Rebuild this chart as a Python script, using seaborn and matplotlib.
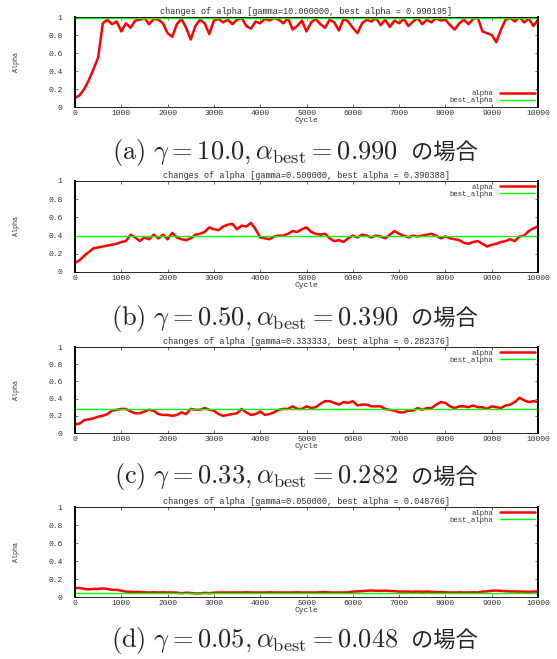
import matplotlib
matplotlib.use("Agg")
import matplotlib.pyplot as plt
import numpy as np
import pandas as pd
import seaborn as sns

cycles = np.arange(0, 10001, 100)

alpha_a = [
    0.10, 0.13, 0.20, 0.30, 0.42, 0.55, 0.93, 0.97, 0.92, 0.95,
    0.84, 0.93, 0.88, 0.96, 0.97, 0.99, 0.92, 0.98, 0.97, 0.93,
    0.82, 0.78, 0.92, 0.98, 0.88, 0.75, 0.90, 0.97, 0.93, 0.81,
    0.96, 0.98, 0.94, 0.97, 0.92, 0.97, 0.99, 0.90, 0.87, 0.95,
    0.93, 0.98, 0.96, 0.99, 0.97, 0.93, 0.99, 0.86, 0.90, 0.96,
    0.84, 0.94, 0.98, 0.92, 0.88, 0.97, 0.94, 0.85, 0.98, 0.95,
    0.88, 0.82, 0.93, 0.97, 0.95, 0.99, 0.91, 0.97, 0.89, 0.96,
    0.93, 0.98, 0.90, 0.95, 0.99, 0.92, 0.97, 0.94, 0.99, 0.96,
    0.97, 0.91, 0.86, 0.93, 0.97, 0.92, 0.98, 0.99, 0.84, 0.82,
    0.80, 0.72, 0.86, 0.97, 0.99, 0.95, 1.00, 0.94, 0.98, 0.90,
    0.97,
]
alpha_b = [
    0.10, 0.13, 0.18, 0.22, 0.26, 0.27, 0.28, 0.29, 0.30, 0.31,
    0.33, 0.34, 0.41, 0.38, 0.34, 0.38, 0.36, 0.41, 0.37, 0.41,
    0.36, 0.43, 0.38, 0.36, 0.35, 0.37, 0.41, 0.42, 0.44, 0.49,
    0.47, 0.46, 0.50, 0.52, 0.53, 0.47, 0.51, 0.50, 0.54, 0.47,
    0.38, 0.37, 0.36, 0.39, 0.40, 0.40, 0.42, 0.45, 0.44, 0.47,
    0.49, 0.44, 0.42, 0.41, 0.42, 0.37, 0.34, 0.35, 0.33, 0.37,
    0.40, 0.38, 0.41, 0.40, 0.38, 0.40, 0.39, 0.37, 0.41, 0.45,
    0.42, 0.40, 0.38, 0.40, 0.39, 0.40, 0.41, 0.42, 0.40, 0.37,
    0.39, 0.37, 0.36, 0.35, 0.32, 0.31, 0.33, 0.34, 0.31, 0.28,
    0.30, 0.31, 0.33, 0.34, 0.36, 0.34, 0.39, 0.40, 0.45, 0.48,
    0.50,
]
alpha_c = [
    0.10, 0.11, 0.15, 0.16, 0.17, 0.19, 0.20, 0.22, 0.26, 0.27,
    0.28, 0.28, 0.25, 0.23, 0.23, 0.25, 0.27, 0.26, 0.22, 0.21,
    0.21, 0.20, 0.21, 0.24, 0.22, 0.28, 0.27, 0.27, 0.29, 0.27,
    0.26, 0.22, 0.20, 0.21, 0.22, 0.23, 0.28, 0.24, 0.21, 0.22,
    0.25, 0.21, 0.22, 0.24, 0.27, 0.28, 0.28, 0.31, 0.28, 0.28,
    0.31, 0.29, 0.30, 0.34, 0.37, 0.37, 0.35, 0.33, 0.36, 0.35,
    0.37, 0.32, 0.33, 0.33, 0.31, 0.31, 0.31, 0.28, 0.27, 0.26,
    0.24, 0.24, 0.26, 0.26, 0.29, 0.27, 0.29, 0.29, 0.33, 0.36,
    0.35, 0.31, 0.29, 0.31, 0.31, 0.30, 0.32, 0.30, 0.30, 0.28,
    0.31, 0.30, 0.29, 0.32, 0.33, 0.36, 0.41, 0.38, 0.36, 0.37,
    0.36,
]
alpha_d = [
    0.100, 0.100, 0.090, 0.085, 0.090, 0.090, 0.095, 0.090, 0.080, 0.080,
    0.070, 0.060, 0.058, 0.055, 0.055, 0.052, 0.050, 0.052, 0.050, 0.052,
    0.050, 0.050, 0.048, 0.042, 0.048, 0.045, 0.040, 0.040, 0.046, 0.042,
    0.048, 0.050, 0.050, 0.050, 0.050, 0.050, 0.050, 0.052, 0.050, 0.050,
    0.050, 0.050, 0.052, 0.050, 0.050, 0.050, 0.050, 0.050, 0.052, 0.050,
    0.050, 0.050, 0.050, 0.052, 0.055, 0.050, 0.050, 0.050, 0.050, 0.052,
    0.060, 0.062, 0.065, 0.070, 0.072, 0.070, 0.068, 0.070, 0.068, 0.065,
    0.060, 0.060, 0.060, 0.058, 0.060, 0.058, 0.060, 0.058, 0.055, 0.055,
    0.052, 0.050, 0.050, 0.052, 0.050, 0.050, 0.052, 0.050, 0.060, 0.062,
    0.070, 0.072, 0.068, 0.065, 0.062, 0.062, 0.060, 0.060, 0.058, 0.060,
    0.060,
]

gammas = [10.0, 0.5, 0.333333, 0.05]
best_alphas = [0.990195, 0.390388, 0.282376, 0.048766]
panel_letters = ["a", "b", "c", "d"]
caption_gammas = ["10.0", "0.50", "0.33", "0.05"]
caption_bests = ["0.990", "0.390", "0.282", "0.048"]
legend_locs = ["lower right", "upper right", "upper right", "upper right"]
series = [alpha_a, alpha_b, alpha_c, alpha_d]

sns.set_style("ticks")
plt.rcParams["mathtext.fontset"] = "cm"
plt.rcParams["font.family"] = ["Liberation Mono", "DejaVu Sans Mono"]

fig = plt.figure(figsize=(5.57, 6.59), dpi=100)
renderer = fig.canvas.get_renderer()

# (top px, bottom px, caption centre px) in the 557x659 frame
rows = [(17, 107, 152), (181, 272, 318), (347, 433, 477), (507, 597, 640)]
W, H = 557, 659
left_px, right_px = 75, 538
small = 5.8
ink = "#333333"

for i, (top, bottom, cap_y) in enumerate(rows):
    ax = fig.add_axes([
        left_px / W,
        1 - bottom / H,
        (right_px - left_px) / W,
        (bottom - top) / H,
    ])
    df = pd.DataFrame({"Cycle": cycles, "Alpha": series[i]})
    sns.lineplot(data=df, x="Cycle", y="Alpha", ax=ax, color="#ff0000",
                 lw=1.8, label="alpha")
    ax.axhline(best_alphas[i], color="#00ff00", lw=1.0, label="best_alpha")
    ax.set_xlim(0, 10000)
    ax.set_ylim(0, 1)
    ax.set_xticks(np.arange(0, 10001, 1000))
    ax.set_yticks([0, 0.2, 0.4, 0.6, 0.8, 1.0])
    ax.set_yticklabels(["0", "0.2", "0.4", "0.6", "0.8", "1"])
    ax.tick_params(direction="in", length=2.5, width=0.5, labelsize=small,
                   top=True, right=True, colors=ink)
    ax.tick_params(axis="y", pad=9)
    ax.tick_params(axis="x", pad=2.5)
    for side in ["left", "right"]:
        ax.spines[side].set_linewidth(1.4)
    for side in ["top", "bottom"]:
        ax.spines[side].set_linewidth(0.6)
    for sp in ax.spines.values():
        sp.set_color("black")
    ax.set_xlabel("Cycle", fontsize=small, labelpad=0, color=ink)
    ax.set_ylabel("Alpha", fontsize=small - 1, color=ink)
    ax.yaxis.set_label_coords(-(left_px - 20) / (right_px - left_px), 0.5)
    ax.set_title(
        f"changes of alpha [gamma={gammas[i]:.6f}, best alpha = {best_alphas[i]:.6f}]",
        fontsize=small + 0.4, pad=2.5, color=ink,
    )
    leg = ax.legend(loc=legend_locs[i], fontsize=small - 0.6, frameon=False,
                    markerfirst=False, handlelength=4.8, labelspacing=0.0,
                    borderaxespad=0.2, borderpad=0.2, handletextpad=1.0)
    for t in leg.get_texts():
        t.set_ha("right")
        t.set_color(ink)

    # caption: math part in Computer Modern, then the Japanese tail
    y_cap = 1 - cap_y / H
    math_txt = fig.text(
        0, y_cap,
        rf"$\mathrm{{({panel_letters[i]})}}\ \gamma = {caption_gammas[i]},"
        rf"\alpha_{{\mathrm{{best}}}} = {caption_bests[i]}$",
        ha="left", va="center", fontsize=19,
    )
    jp_txt = fig.text(
        0, y_cap, "の場合", ha="left", va="center", fontsize=16,
        family=["Noto Sans CJK JP"],
    )
    w_math = math_txt.get_window_extent(renderer).width
    w_jp = jp_txt.get_window_extent(renderer).width
    gap = 13
    total = w_math + gap + w_jp
    x0 = 478 - total
    math_txt.set_x(x0 / W)
    jp_txt.set_x((x0 + w_math + gap) / W)

fig.savefig("out.png", dpi=100)
